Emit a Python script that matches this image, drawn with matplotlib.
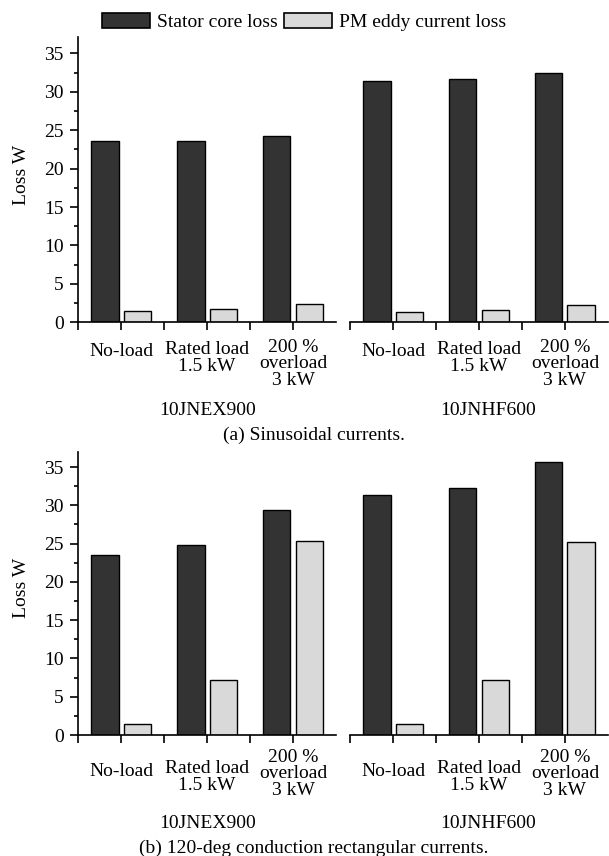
import matplotlib
matplotlib.use("Agg")
import matplotlib.pyplot as plt
import matplotlib.transforms as mtransforms
from matplotlib.patches import Patch
import numpy as np

plt.rcParams['font.family'] = ['Liberation Serif', 'DejaVu Serif']
plt.rcParams['font.size'] = 14

conditions = ["No-load", "Rated load\n1.5 kW", "200 %\noverload\n3 kW"]
machines = ["10JNEX900", "10JNHF600"]

# (a) sinusoidal currents
stator_a = {"10JNEX900": [23.55, 23.55, 24.3], "10JNHF600": [31.4, 31.65, 32.5]}
pm_a = {"10JNEX900": [1.47, 1.69, 2.34], "10JNHF600": [1.38, 1.64, 2.29]}
# (b) 120-deg conduction rectangular currents
stator_b = {"10JNEX900": [23.5, 24.75, 29.4], "10JNHF600": [31.4, 32.3, 35.65]}
pm_b = {"10JNEX900": [1.45, 7.2, 25.4], "10JNHF600": [1.4, 7.15, 25.25]}

captions = ["(a) Sinusoidal currents.", "(b) 120-deg conduction rectangular currents."]

DARK = "#333333"
LIGHT = "#d9d9d9"

W, H = 609, 856
fig = plt.figure(figsize=(W / 100, H / 100), dpi=100)


def fy(px):
    return 1 - px / H


def draw_panel(stator, pm, top_px, zero_px, ytop, label_y, group_y, caption_y, caption, ylabel_y):
    bottom = fy(zero_px)
    height = (zero_px - top_px) / H
    lefts = [78.4 / W, 350.3 / W]
    width = 257.5 / W
    x = np.arange(3) + 0.5
    axes = []
    for i, m in enumerate(machines):
        ax = fig.add_axes([lefts[i], bottom, width, height])
        ax.bar(x - 0.19, stator[m], 0.32, color=DARK, edgecolor="black", linewidth=1)
        ax.bar(x + 0.19, pm[m], 0.32, color=LIGHT, edgecolor="black", linewidth=1)
        ax.set_xlim(0, 3)
        ax.set_ylim(0, ytop)
        for s in ["top", "right"]:
            ax.spines[s].set_visible(False)
        ax.spines["bottom"].set_linewidth(1.2)
        ax.spines["left"].set_linewidth(1.2)
        ax.set_xticks(np.arange(0, 3, 0.5))
        ax.set_xticklabels([])
        ax.tick_params(axis="x", direction="out", length=6, width=1.2)
        if i == 0:
            ax.set_yticks(np.arange(0, 36, 5))
            ax.set_yticks(np.arange(0, 36, 2.5), minor=True)
            ax.tick_params(axis="y", which="major", length=6, width=1.2, pad=4.7, labelsize=14)
            ax.tick_params(axis="y", which="minor", length=3, width=1.2)
        else:
            ax.spines["left"].set_visible(False)
            ax.set_yticks([])
        trans = mtransforms.blended_transform_factory(ax.transData, fig.transFigure)
        for j, c in enumerate(conditions):
            ax.text(x[j], fy(label_y[j]), c, transform=trans, ha="center", va="center",
                    fontsize=14, linespacing=0.95)
        gx = 1.5 if i == 0 else 1.6
        ax.text(gx, fy(group_y), m, transform=trans, ha="center", va="center", fontsize=14)
        axes.append(ax)
    fig.text(314 / W, fy(caption_y), caption, ha="center", va="center", fontsize=14)
    fig.text(21 / W, fy(ylabel_y), "Loss W", rotation=90, ha="center", va="center", fontsize=14)
    return axes


draw_panel(stator_a, pm_a, 37.3, 322.3, 37.1, [351, 358, 364], 410, 435, captions[0], 175)
draw_panel(stator_b, pm_b, 451.7, 735, 37.0, [771, 777, 774], 823, 848, captions[1], 588)

handles = [Patch(facecolor=DARK, edgecolor="black", linewidth=1.2),
           Patch(facecolor=LIGHT, edgecolor="black", linewidth=1.2)]
fig.legend(handles, ["Stator core loss", "PM eddy current loss"], loc="center",
           bbox_to_anchor=(304 / W, fy(22)), ncol=2, frameon=False, fontsize=14,
           handlelength=2.47, handleheight=0.82, handletextpad=0.33, columnspacing=0.34,
           borderpad=0, borderaxespad=0)

fig.savefig("out.png", dpi=100)
